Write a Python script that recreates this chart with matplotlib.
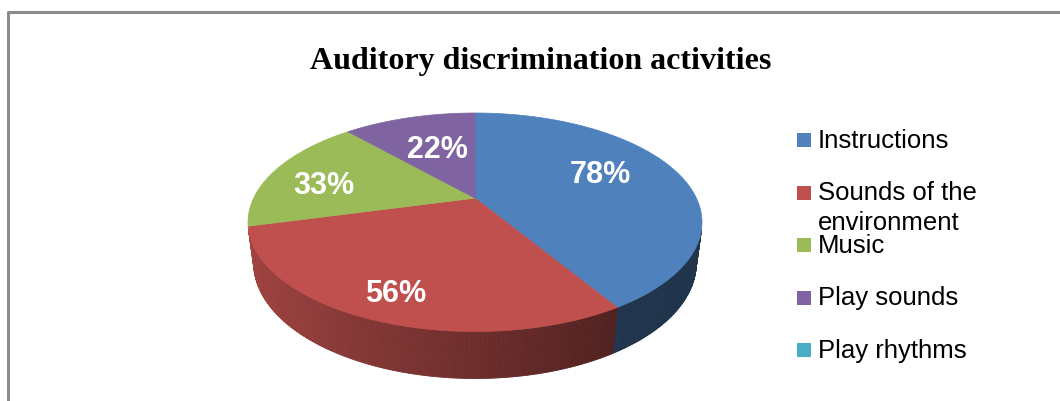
import numpy as np
import matplotlib.pyplot as plt
from matplotlib.colors import to_rgb
from matplotlib.patches import Polygon, Rectangle

# ==========================================
# DATA
# ==========================================
TITLE = 'Auditory discrimination activities'
categories = ['Instructions', 'Sounds of the\nenvironment', 'Music', 'Play sounds', 'Play rhythms']
values = [78, 56, 33, 22, 0]
colors = ['#4f81bd', '#c0504d', '#9bbb59', '#8064a2', '#4bacc6']

# label placement (Excel puts them a bit off the wedge mid-line)
label_r = [0.66, 0.80, 0.72, 0.59, 0.6]
label_nudge = [9.0, 0.0, 4.5, -2.0, 0.0]   # degrees

# ==========================================
# 3D PIE GEOMETRY (simple perspective camera)
# ==========================================
ALPHA = np.radians(28)   # camera elevation
DIST = 4.0               # camera distance (pie radius = 1)
THICK = 0.21             # pie thickness

PIE_LEFT, PIE_RIGHT, PIE_TOP = 248, 702, 113   # pixel box of the top face


def project(theta_deg, h, r=1.0):
    th = np.radians(theta_deg)
    x = r * np.cos(th)
    z = r * np.sin(th)
    v = h * np.cos(ALPHA) + z * np.sin(ALPHA)
    w = DIST + z * np.cos(ALPHA) - h * np.sin(ALPHA)
    return x / w, v / w


# scale the projection into the pixel box
_t = np.linspace(0, 360, 721)
_X, _Y = project(_t, 0.0)
SCALE = (PIE_RIGHT - PIE_LEFT) / (_X.max() - _X.min())
OFF_X = PIE_LEFT - SCALE * _X.min()
OFF_Y = PIE_TOP + SCALE * _Y.max()


def to_px(theta_deg, h, r=1.0):
    X, Y = project(theta_deg, h, r)
    return OFF_X + SCALE * X, OFF_Y - SCALE * Y


def shade(rgb, theta_deg):
    f = max(0.40, 0.57 - 0.29 * np.cos(np.radians(theta_deg)))
    return tuple(c * f for c in rgb)


fig = plt.figure(figsize=(10.6, 4.01), dpi=100)
ax = fig.add_axes([0, 0, 1, 1])
ax.set_xlim(0, 1060)
ax.set_ylim(401, 0)
ax.axis('off')

# chart frame (only top and left edges show in the crop)
ax.plot([8, 8, 1060], [401, 11.5, 11.5], color='#8c8c8c', lw=2.2, solid_capstyle='butt')

ax.text(541, 69, TITLE, ha='center', va='baseline', fontsize=23,
        fontweight='bold', family='Liberation Serif')

# slice angles: start at 12 o'clock, clockwise
total = sum(values)
starts, ends = [], []
a = 90.0
for v in values:
    span = 360.0 * v / total
    starts.append(a - span)
    ends.append(a)
    a -= span

# visible side wall range
lim = np.degrees(np.arcsin(1.0 / (DIST * np.cos(ALPHA))))
vis_lo, vis_hi = 180 + lim, 360 - lim

# side walls
for v, s, e, col in zip(values, starts, ends, colors):
    if v == 0:
        continue
    rgb = to_rgb(col)
    for off in (0, 360, -360):
        lo = max(s + off, vis_lo)
        hi = min(e + off, vis_hi)
        if hi <= lo:
            continue
        edges = np.arange(lo, hi, 0.5).tolist() + [hi]
        for t0, t1 in zip(edges[:-1], edges[1:]):
            tt = np.linspace(t0, t1, 3)
            xt, yt = to_px(tt, 0.0)
            xb, yb = to_px(tt[::-1], -THICK)
            c = shade(rgb, 0.5 * (t0 + t1))
            ax.add_patch(Polygon(np.column_stack([np.r_[xt, xb], np.r_[yt, yb]]),
                                 closed=True, facecolor=c, edgecolor=c, lw=0.6))

# top faces
cx, cy = to_px(0, 0.0, r=0.0)
for v, s, e, col in zip(values, starts, ends, colors):
    if v == 0:
        continue
    tt = np.linspace(s, e, 200)
    xs, ys = to_px(tt, 0.0)
    poly = np.column_stack([np.r_[cx, xs], np.r_[cy, ys]])
    ax.add_patch(Polygon(poly, closed=True, facecolor=col, edgecolor=col, lw=0.5))

# percentage labels
for v, s, e, rr, dn in zip(values, starts, ends, label_r, label_nudge):
    if v == 0:
        continue
    lx, ly = to_px(0.5 * (s + e) + dn, 0.0, r=rr)
    ax.text(lx, ly, f'{v}%', ha='center', va='center_baseline', color='white',
            fontsize=22, fontweight='bold', family='Liberation Sans')

# legend (drawn by hand to mimic the Excel layout)
leg_x, leg_y0, leg_dy = 797, 140, 52.5
for i, (lab, col) in enumerate(zip(categories, colors)):
    y = leg_y0 + i * leg_dy
    ax.add_patch(Rectangle((leg_x, y - 7), 14, 14, facecolor=col, edgecolor='none'))
    if '\n' in lab:
        first, second = lab.split('\n')
        ax.text(leg_x + 21, y + 1, first, ha='left', va='center',
                fontsize=18.5, family='Liberation Sans', color='black')
        ax.text(leg_x + 21, y + 31, second, ha='left', va='center',
                fontsize=18.5, family='Liberation Sans', color='black')
    else:
        ax.text(leg_x + 21, y + 1, lab, ha='left', va='center',
                fontsize=18.5, family='Liberation Sans', color='black')

fig.savefig('out.png', dpi=100)
